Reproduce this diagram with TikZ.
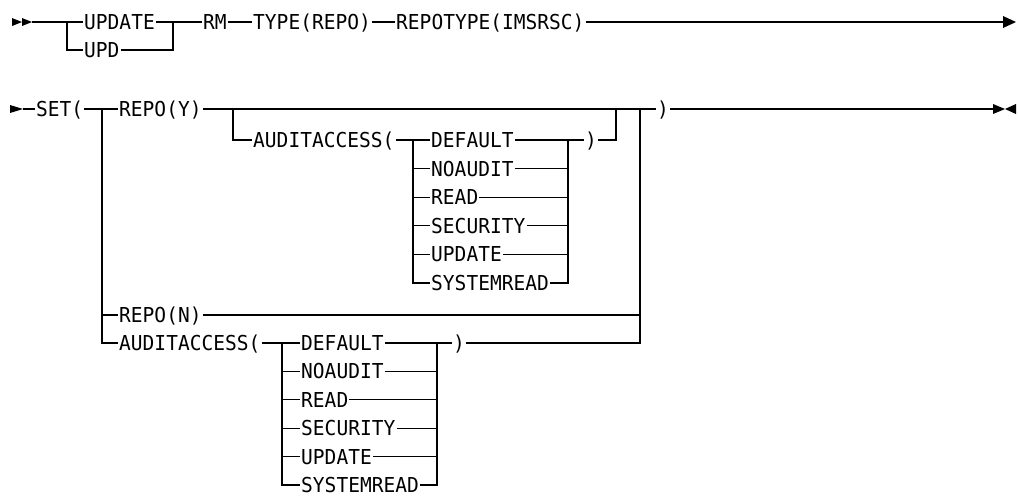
\documentclass[tikz,border=0pt]{standalone}
\usepackage{fontspec}
\setmonofont[FakeStretch=0.95]{DejaVu Sans Mono}
\tikzset{
	kw/.style={font=\ttfamily\fontsize{11.7}{13}\selectfont, anchor=west, inner ysep=0pt, inner xsep=0.5pt, text height=8.5pt, text depth=0pt},
	rail/.style={line width=0.6pt, black},
	tip/.style={fill=black}
}
\begin{document}
\begin{tikzpicture}[x=0.02cm, y=-0.02cm]
		\useasboundingbox (0,0) rectangle (1018,495);

		% first line
		\fill [tip] (12,18) -- (22,22) -- (12,26) -- cycle;
		\fill [tip] (22,18) -- (32,22) -- (22,26) -- cycle;
		\coordinate (s1) at (32,22);
		\coordinate (u1) at (67,22);
		\coordinate (u2) at (173,22);
		\node [kw] (update) at (83,22) {UPDATE};
		\node [kw] (upd) at (83,50) {UPD};
		\node [kw] (rm) at (202,22) {RM};
		\node [kw] (type) at (252,22) {TYPE(REPO)};
		\node [kw] (repotype) at (395,22) {REPOTYPE(IMSRSC)};
		\coordinate (e1) at (1003,22);
		\fill [tip] (1003,16) -- (1016,22) -- (1003,28) -- cycle;

		\draw [rail] (s1) -- (update.west);
		\draw [rail] (upd.west) -| (u1);
		\draw [rail] (update.east) -- (rm.west);
		\draw [rail] (upd.east) -| (u2);
		\draw [rail] (rm.east) -- (type.west);
		\draw [rail] (type.east) -- (repotype.west);
		\draw [rail] (repotype.east) -- (e1);

		% second line
		\fill [tip] (10,105) -- (23,109) -- (10,113) -- cycle;
		\coordinate (s2) at (23,109);
		\node [kw] (set) at (35,109) {SET(};
		\coordinate (v1) at (102,109);
		\node [kw] (repoy) at (118,109) {REPO(Y)};
		\coordinate (o1) at (233,109);
		\node [kw] (aud1) at (252,140) {AUDITACCESS(};
		\coordinate (j1) at (413,140);
		\coordinate (k1) at (568,140);
		\node [kw] (cl1) at (584,140) {)};
		\coordinate (o2) at (616,109);
		\coordinate (v2) at (640,109);
		\node [kw] (cl) at (656,109) {)};
		\coordinate (e2) at (993,109);
		\node [kw] (repon) at (118,315) {REPO(N)};
		\node [kw] (aud2) at (118,343) {AUDITACCESS(};
		\coordinate (j2) at (282,343);
		\coordinate (k2) at (437,343);
		\node [kw] (cl2) at (452,343) {)};

		\foreach \v [count=\i] in {DEFAULT,NOAUDIT,READ,SECURITY,UPDATE,SYSTEMREAD} {
			\node [kw] (a\i) at (430,{140+28.6*(\i-1)}) {\v};
			\node [kw] (b\i) at (300,{343+28.4*(\i-1)}) {\v};
			\draw [rail] (a\i.west) -| (j1);
			\draw [rail] (a\i.east) -| (k1);
			\draw [rail] (b\i.west) -| (j2);
			\draw [rail] (b\i.east) -| (k2);
		}

		\draw [rail] (s2) -- (set.west);
		\draw [rail] (set.east) -- (repoy.west);
		\draw [rail] (repon.west) -| (v1);
		\draw [rail] (aud2.west) -| (v1);
		\draw [rail] (repoy.east) -- (cl.west);
		\draw [rail] (aud1.west) -| (o1);
		\draw [rail] (aud1.east) -- (a1.west);
		\draw [rail] (k1) -- (cl1.west);
		\draw [rail] (cl1.east) -| (o2);
		\draw [rail] (repon.east) -| (v2);
		\draw [rail] (aud2.east) -- (b1.west);
		\draw [rail] (k2) -- (cl2.west);
		\draw [rail] (cl2.east) -| (v2);
		\draw [rail] (cl.east) -- (e2);
		\fill [tip] (993,104) -- (1005,109) -- (993,114) -- cycle;
		\fill [tip] (1016,104) -- (1005,109) -- (1016,114) -- cycle;

\end{tikzpicture}
\end{document}
